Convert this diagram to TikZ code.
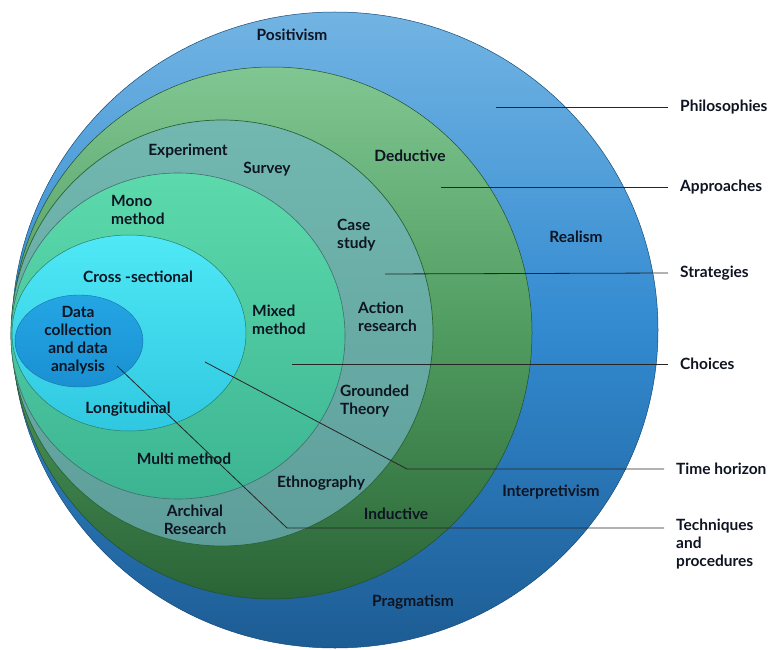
\documentclass[tikz,border=0pt]{standalone}
\usepackage{fontspec}
\setmainfont{Lato}

\definecolor{philTop}{RGB}{114,180,227}
\definecolor{philMid}{RGB}{50,138,208}
\definecolor{philBot}{RGB}{29,92,148}
\definecolor{apprTop}{RGB}{128,198,146}
\definecolor{apprMid}{RGB}{80,156,96}
\definecolor{apprBot}{RGB}{42,100,54}
\definecolor{stratTop}{RGB}{114,184,176}
\definecolor{stratBot}{RGB}{94,158,154}
\definecolor{choiceTop}{RGB}{92,218,172}
\definecolor{choiceBot}{RGB}{60,180,146}
\definecolor{timeTop}{RGB}{78,232,246}
\definecolor{timeBot}{RGB}{48,200,224}
\definecolor{techTop}{RGB}{36,166,228}
\definecolor{techBot}{RGB}{26,144,210}
\definecolor{labelInk}{RGB}{14,20,34}

\tikzset{
    philring/.style={top color=philTop, bottom color=philBot, middle color=philMid, draw=philBot!80!black, line width=0.5pt},
    apprring/.style={top color=apprTop, bottom color=apprBot, middle color=apprMid, draw=apprBot!80!black, line width=0.5pt},
    stratring/.style={top color=stratTop, bottom color=stratBot, draw=apprBot, line width=0.7pt},
    choicering/.style={top color=choiceTop, bottom color=choiceBot, draw=stratBot!70!black, line width=0.6pt},
    timering/.style={top color=timeTop, bottom color=timeBot, draw=choiceBot!70!black, line width=0.5pt},
    techring/.style={top color=techTop, bottom color=techBot, draw=techBot!80!black, line width=0.4pt},
    ringtext/.style={inner sep=0pt, text=labelInk, font=\fontsize{15.5}{18}\selectfont\bfseries},
    sidetext/.style={anchor=west, inner xsep=12pt, inner ysep=0pt, text=labelInk, align=left,
        font=\fontsize{15.5}{18}\selectfont\bfseries},
    leader/.style={draw=black!85, line width=0.8pt},
    common settings/.style={x=1pt, y=-1pt}
}

\begin{document}
\begin{tikzpicture}[common settings]
    \useasboundingbox (0,0) rectangle (779,650);

    % Rings, outermost first
    \path[philring]   (335,330) ellipse [x radius=323, y radius=318]; % Philosophies
    \path[apprring]   (272,333) ellipse [x radius=260, y radius=266]; % Approaches
    \path[stratring]  (222,333) ellipse [x radius=211, y radius=213]; % Strategies
    \path[choicering] (178,336) ellipse [x radius=167, y radius=163]; % Choices
    \path[timering]   (129,333) ellipse [x radius=117, y radius=98];  % Time horizon
    \path[techring]   (79,341)  ellipse [x radius=64,  y radius=46];  % Techniques

    % Philosophies
    \node[ringtext] (positivism) at (292,35) {Positivism};
    \node[ringtext] (realism) at (576,237) {Realism};
    \node[ringtext] (interpretivism) at (551,492) {Interpretivism};
    \node[ringtext] (pragmatism) at (413,602) {Pragmatism};

    % Approaches
    \node[ringtext] (deductive) at (410,156) {Deductive};
    \node[ringtext] (inductive) at (396,514) {Inductive};

    % Strategies
    \node[ringtext] (experiment) at (188,151) {Experiment};
    \node[ringtext] (survey) at (267,169) {Survey};
    \node[ringtext, anchor=west, align=left] (casestudy) at (337,235) {Case\\study};
    \node[ringtext, anchor=west, align=left] (action) at (358,317) {Action\\research};
    \node[ringtext, anchor=west, align=left] (grounded) at (340,401) {Grounded\\Theory};
    \node[ringtext] (ethnography) at (321,483) {Ethnography};
    \node[ringtext, align=center] (archival) at (195,520) {Archival\\Research};

    % Choices
    \node[ringtext, anchor=west, align=left] (mono) at (111,210) {Mono\\method};
    \node[ringtext, anchor=west, align=left] (mixed) at (252,320) {Mixed\\method};
    \node[ringtext] (multi) at (184,459) {Multi method};

    % Time horizon
    \node[ringtext] (crosssec) at (138,277) {Cross -sectional};
    \node[ringtext] (longitudinal) at (128,409) {Longitudinal};

    % Techniques and procedures
    \node[ringtext, align=center] (datacoll) at (78,340) {Data\\collection\\and data\\analysis};

    % Layer names on the right
    \node[sidetext] (philosophies) at (668,107) {Philosophies};
    \node[sidetext] (approaches) at (668,187) {Approaches};
    \node[sidetext] (strategies) at (668,273) {Strategies};
    \node[sidetext] (choices) at (668,364) {Choices};
    \node[sidetext] (timehorizon) at (664,469) {Time horizon};
    \node[sidetext, anchor=north west] (techniques) at (664,519) {Techniques\\and\\procedures};

    % Leader lines
    \coordinate (philo-pt) at (496,107);
    \coordinate (appr-pt) at (441,187);
    \coordinate (strat-pt) at (385,274);
    \coordinate (choice-pt) at (292,364);
    \coordinate (time-pt) at (205,362);
    \coordinate (time-bend) at (407,469);
    \coordinate (tech-pt) at (117,366);
    \coordinate (tech-bend) at (287,528);

    \draw[leader] (philo-pt) -- (philosophies.west);
    \draw[leader] (appr-pt) -- (approaches.west);
    \draw[leader] (strat-pt) -- (strategies.west);
    \draw[leader] (choice-pt) -- (choices.west);
    \draw[leader] (time-pt) -- (time-bend) -- (timehorizon.west);
    \draw[leader] (tech-pt) -- (tech-bend) -- (tech-bend -| techniques.west);
\end{tikzpicture}
\end{document}
